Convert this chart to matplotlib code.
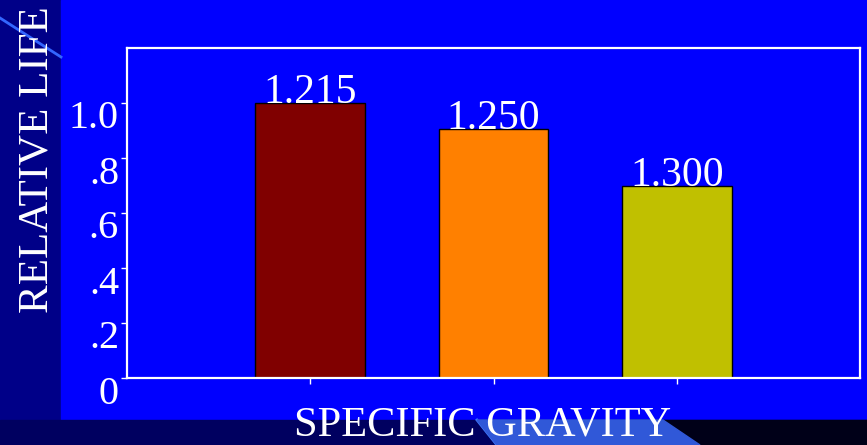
import matplotlib.pyplot as plt
import matplotlib.transforms as mtransforms
from matplotlib.patches import Rectangle, Polygon
from matplotlib.lines import Line2D

plt.rcParams['font.family'] = ['Liberation Serif', 'DejaVu Serif']

gravity = ['1.215', '1.250', '1.300']
life = [1.0, 0.905, 0.70]
colors = ['#800000', '#FF8000', '#C0C000']
ytick_vals = [0, 0.2, 0.4, 0.6, 0.8, 1.0]
ytick_labels = ['0', '.2', '.4', '.6', '.8', '1.0']

W, H = 867, 445
fig = plt.figure(figsize=(W / 100, H / 100), dpi=100)
fig.patch.set_facecolor('#000088')

def px(x, y):
    # pixel coords (top-left origin) -> figure fraction
    return (x / W, 1 - y / H)

# slide backdrop: bright panel, dark bottom strip, light blue accents
fig.patches.append(Rectangle(px(61, 420), (W - 61) / W, 420 / H,
                             transform=fig.transFigure, color='#0000FF', zorder=-2))
fig.patches.append(Rectangle(px(0, 445), 1, 25 / H, transform=fig.transFigure,
                             color='#000060', zorder=-2))
fig.patches.append(Rectangle(px(620, 445), 247 / W, 25 / H, transform=fig.transFigure,
                             color='#000018', zorder=-2))
fig.patches.append(Polygon([px(477, 420), px(663, 420), px(700, 445), px(497, 445)],
                           closed=True, transform=fig.transFigure,
                           color='#3058D8', zorder=-1))
fig.lines.append(Line2D([477 / W, 497 / W], [1 - 420 / H, 0], transform=fig.transFigure,
                        color='#3F7BFF', lw=2, zorder=-1))
fig.lines.append(Line2D([0, 61 / W], [1 - 18 / H, 1 - 57 / H], transform=fig.transFigure,
                        color='#3366FF', lw=2, zorder=-1))

ax = fig.add_axes([127 / W, 67 / H, 733 / W, 330 / H])
ax.set_facecolor('#0000FF')

x = [1, 2, 3]
bars = ax.bar(x, life, width=0.6, color=colors, edgecolor='black', linewidth=1)
for xi, v, lab in zip(x, life, gravity):
    ax.text(xi, v, lab, ha='center', va='baseline', color='white', fontsize=30)

ax.set_xlim(0, 4)
ax.set_ylim(0, 1.2)
ax.set_xticks(x)
ax.set_xticklabels([])
ax.set_yticks(ytick_vals)
ax.set_yticklabels([])

# y labels sit a little below their ticks
shift = mtransforms.ScaledTranslation(-0.08, -0.16, fig.dpi_scale_trans)
for v, lab in zip(ytick_vals, ytick_labels):
    ax.text(0, v, lab, transform=ax.get_yaxis_transform() + shift,
            ha='right', va='center', color='white', fontsize=29)

for s in ax.spines.values():
    s.set_color('white')
    s.set_linewidth(1.6)
ax.tick_params(axis='both', colors='white', direction='out', length=4, width=1, pad=3)

fig.text(37 / W, 1 - 160 / H, 'RELATIVE LIFE', rotation=90, ha='center', va='center',
         color='white', fontsize=31)
fig.text(483 / W, 1 - 436 / H, 'SPECIFIC GRAVITY', ha='center', va='baseline',
         color='white', fontsize=30.5)

fig.savefig('out.png', dpi=100, facecolor=fig.get_facecolor())
